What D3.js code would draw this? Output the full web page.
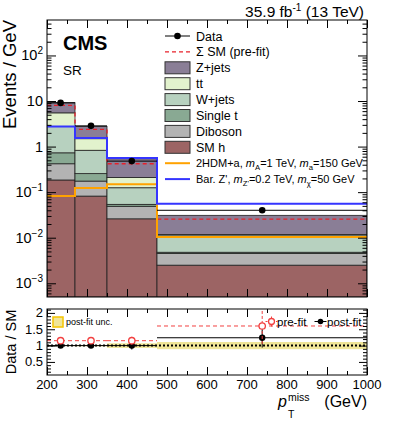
<!DOCTYPE html>
<html>
<head>
<meta charset="utf-8">
<script src="https://cdn.jsdelivr.net/npm/d3@7"></script>
<style>
body { margin: 0; background: #fff; }
text { font-family: "Liberation Sans", Arial, Helvetica, sans-serif; fill: #000; }
</style>
</head>
<body>
<script>
// binning and yields (events / GeV)
const binEdges = [200, 270, 350, 475, 1000];
const dataX = [234, 310, 412, 738];
const dataY = [9.1, 2.85, 0.48, 0.040];
const prefitSM = [8.0, 2.38, 0.42, 0.0256];

const bkgKeys = ["SM h", "Diboson", "Single t", "W+jets", "tt", "Z+jets"];
const smh = [0.185, 0.082, 0.026, 0.0025];
const diboson = [0.235, 0.093, 0.023, 0.0020];
const singleT = [0.31, 0.080, 0.005, 0.0003];
const wjets = [2.04, 0.575, 0.071, 0.0067];
const ttbar = [2.73, 0.66, 0.085, 0.0002];
const zjets = [3.7, 1.28, 0.33, 0.0193];
const bkgValues = [smh, diboson, singleT, wjets, ttbar, zjets];
const bkgColors = ["#9c6464", "#b3b3b3", "#89a993", "#b7d1bf", "#e2f2cd", "#8a7e96"];

const sig2hdm = [0.082, 0.123, 0.150, 0.0104];
const sigZp = [2.77, 1.54, 0.56, 0.056];

// ratio panel
const prefitRatio = [1.15, 1.15, 1.15, 1.6];
const prefitErr = [0.03, 0.04, 0.12, 0.55];
const postfitRatio = [1.0, 1.0, 1.0, 1.24];
const postfitErr = [0.03, 0.04, 0.12, 0.3];
const postfitUnc = [0.015, 0.02, 0.07, 0.11];

const xTicks = [200, 300, 400, 500, 600, 700, 800, 900, 1000];
const yDecades = [1e-3, 1e-2, 1e-1, 1, 10, 100];
const yDecadeLabels = [["10", "−3"], ["10", "−2"], ["10", "−1"], ["1", ""], ["10", ""], ["10", "2"]];
const ratioTicks = [0.5, 1, 1.5, 2];
const ratioTickLabels = ["0.5", "1", "1.5", "2"];

const width = 395;
const height = 425;
const L = 47, R = 367;
const mainTop = 20, mainBottom = 297;
const ratTop = 309, ratBottom = 375;

const svg = d3.select('body').append('svg')
    .attr('width', width)
    .attr('height', height);

const x = d3.scaleLinear().domain([200, 1000]).range([L, R]);
const y = d3.scaleLog().domain([5e-4, 600]).range([mainBottom, mainTop]);
const yr = d3.scaleLinear().domain([0.1, 2.12]).range([ratBottom, ratTop]);
const yMin = y.domain()[0];

const defs = svg.append('defs');
defs.append('clipPath').attr('id', 'clipMain').append('rect')
    .attr('x', L).attr('y', mainTop).attr('width', R - L).attr('height', mainBottom - mainTop);
defs.append('clipPath').attr('id', 'clipRatio').append('rect')
    .attr('x', L).attr('y', ratTop).attr('width', R - L).attr('height', ratBottom - ratTop);

// ---- main panel ----
const main = svg.append('g').attr('clip-path', 'url(#clipMain)');

const table = binEdges.slice(0, -1).map((lo, i) => {
    const row = { lo: lo, hi: binEdges[i + 1] };
    bkgKeys.forEach((k, j) => row[k] = bkgValues[j][i]);
    return row;
});
const stacked = d3.stack().keys(bkgKeys)(table);

stacked.forEach((layer, j) => {
    main.append('g')
        .selectAll('rect')
        .data(layer)
        .join('rect')
        .attr('x', d => x(d.data.lo))
        .attr('width', d => x(d.data.hi) - x(d.data.lo))
        .attr('y', d => y(d[1]))
        .attr('height', d => y(Math.max(d[0], yMin)) - y(d[1]))
        .attr('fill', bkgColors[j])
        .attr('stroke', '#222')
        .attr('stroke-width', 0.8);
});

function stepPoints(vals) {
    const pts = [];
    vals.forEach((v, i) => {
        pts.push([binEdges[i], v]);
        pts.push([binEdges[i + 1], v]);
    });
    return pts;
}
const stepLine = d3.line().x(d => x(d[0])).y(d => y(d[1]));

main.append('path')
    .attr('d', stepLine(stepPoints(prefitSM)))
    .attr('fill', 'none')
    .attr('stroke', '#e8202a')
    .attr('stroke-width', 1.3)
    .attr('stroke-dasharray', '4,3');

main.append('path')
    .attr('d', stepLine(stepPoints(sig2hdm)))
    .attr('fill', 'none')
    .attr('stroke', '#ffa200')
    .attr('stroke-width', 2);

main.append('path')
    .attr('d', stepLine(stepPoints(sigZp)))
    .attr('fill', 'none')
    .attr('stroke', '#3535ff')
    .attr('stroke-width', 2);

// data
const dataG = main.append('g');
dataY.forEach((v, i) => {
    dataG.append('line')
        .attr('x1', x(binEdges[i])).attr('x2', x(binEdges[i + 1]))
        .attr('y1', y(v)).attr('y2', y(v))
        .attr('stroke', '#000').attr('stroke-width', 1);
});
dataG.selectAll('circle')
    .data(dataY)
    .join('circle')
    .attr('cx', (d, i) => x(dataX[i]))
    .attr('cy', d => y(d))
    .attr('r', 3.3)
    .attr('fill', '#000');

// ---- ratio panel ----
const rat = svg.append('g').attr('clip-path', 'url(#clipRatio)');

rat.append('g')
    .selectAll('rect')
    .data(postfitUnc)
    .join('rect')
    .attr('x', (d, i) => x(binEdges[i]))
    .attr('width', (d, i) => x(binEdges[i + 1]) - x(binEdges[i]))
    .attr('y', d => yr(1 + d))
    .attr('height', d => yr(1 - d) - yr(1 + d))
    .attr('fill', '#f0e597');

rat.append('line')
    .attr('x1', L).attr('x2', R)
    .attr('y1', yr(1)).attr('y2', yr(1))
    .attr('stroke', '#000').attr('stroke-width', 2)
    .attr('stroke-dasharray', '2,2');

function ratioPoints(g, vals, errs, color, dashed, open) {
    vals.forEach((v, i) => {
        g.append('line')
            .attr('x1', x(binEdges[i])).attr('x2', x(binEdges[i + 1]))
            .attr('y1', yr(v)).attr('y2', yr(v))
            .attr('stroke', color).attr('stroke-width', 1)
            .attr('stroke-dasharray', dashed ? '4,3' : null);
        g.append('line')
            .attr('x1', x(dataX[i])).attr('x2', x(dataX[i]))
            .attr('y1', yr(v - errs[i])).attr('y2', yr(v + errs[i]))
            .attr('stroke', color).attr('stroke-width', 1)
            .attr('stroke-dasharray', dashed ? '3,2' : null);
    });
    g.selectAll('circle')
        .data(vals)
        .join('circle')
        .attr('cx', (d, i) => x(dataX[i]))
        .attr('cy', d => yr(d))
        .attr('r', 3.2)
        .attr('fill', open ? '#fff' : color)
        .attr('stroke', open ? color : 'none')
        .attr('stroke-width', 1.3);
}
ratioPoints(rat.append('g'), postfitRatio, postfitErr, '#000', false, false);
ratioPoints(rat.append('g'), prefitRatio, prefitErr, '#f24040', true, true);

// ---- frames and ticks ----
function inside(g, axis, scale, values, size, tx, ty) {
    g.append('g')
        .attr('transform', `translate(${tx},${ty})`)
        .call(axis(scale).tickValues(values).tickSize(-size).tickFormat(''))
        .call(a => a.select('.domain').remove())
        .call(a => a.selectAll('line').attr('stroke', '#000').attr('stroke-width', 1));
}

const xMajor = xTicks;
const xMinor = d3.range(250, 1000, 100);
const axesG = svg.append('g');

[[mainTop, mainBottom], [ratTop, ratBottom]].forEach(([t, b]) => {
    inside(axesG, d3.axisBottom, x, xMajor, 8, 0, b);
    inside(axesG, d3.axisBottom, x, xMinor, 4, 0, b);
    inside(axesG, d3.axisTop, x, xMajor, 8, 0, t);
    inside(axesG, d3.axisTop, x, xMinor, 4, 0, t);
    axesG.append('rect')
        .attr('x', L).attr('y', t)
        .attr('width', R - L).attr('height', b - t)
        .attr('fill', 'none').attr('stroke', '#000').attr('stroke-width', 1);
});

const yMinor = [];
for (let e = -4; e <= 2; e++) {
    for (let m = 2; m <= 9; m++) {
        const v = m * Math.pow(10, e);
        if (v > yMin && v < 600) yMinor.push(v);
    }
}
inside(axesG, d3.axisLeft, y, yDecades, 9, L, 0);
inside(axesG, d3.axisLeft, y, yMinor, 4.5, L, 0);
inside(axesG, d3.axisRight, y, yDecades, 9, R, 0);
inside(axesG, d3.axisRight, y, yMinor, 4.5, R, 0);

const rMinor = d3.range(0.2, 2.12, 0.1).filter(v => Math.abs(v * 2 - Math.round(v * 2)) > 0.01);
inside(axesG, d3.axisLeft, yr, ratioTicks, 8, L, 0);
inside(axesG, d3.axisLeft, yr, rMinor, 4, L, 0);
inside(axesG, d3.axisRight, yr, ratioTicks, 8, R, 0);
inside(axesG, d3.axisRight, yr, rMinor, 4, R, 0);

// tick labels
yDecades.forEach((v, i) => {
    const t = svg.append('text')
        .attr('x', 43).attr('y', y(v) + 5)
        .attr('text-anchor', 'end')
        .attr('font-size', 14.5);
    t.append('tspan').text(yDecadeLabels[i][0]);
    if (yDecadeLabels[i][1]) {
        t.append('tspan').attr('dy', -6).attr('font-size', 10).text(yDecadeLabels[i][1]);
    }
});

ratioTicks.forEach((v, i) => {
    svg.append('text')
        .attr('x', 43).attr('y', yr(v) + 4.5)
        .attr('text-anchor', 'end')
        .attr('font-size', 13)
        .text(ratioTickLabels[i]);
});

xTicks.forEach(v => {
    svg.append('text')
        .attr('x', x(v)).attr('y', 388.5)
        .attr('text-anchor', 'middle')
        .attr('font-size', 13)
        .text(v);
});

// axis titles
svg.append('text')
    .attr('transform', 'translate(16,20) rotate(-90)')
    .attr('text-anchor', 'end')
    .attr('font-size', 18.5)
    .text('Events / GeV');

svg.append('text')
    .attr('transform', 'translate(16,342) rotate(-90)')
    .attr('text-anchor', 'middle')
    .attr('font-size', 14.5)
    .text('Data / SM');

svg.append('text').attr('x', 278).attr('y', 406.5)
    .attr('font-size', 16).attr('font-style', 'italic').text('p');
svg.append('text').attr('x', 288).attr('y', 401)
    .attr('font-size', 10.5).text('miss');
svg.append('text').attr('x', 288).attr('y', 417.5)
    .attr('font-size', 10.5).text('T');
svg.append('text').attr('x', 367).attr('y', 406.5)
    .attr('text-anchor', 'end').attr('font-size', 16).text('(GeV)');

// header
const lumi = svg.append('text')
    .attr('x', 364).attr('y', 17)
    .attr('text-anchor', 'end')
    .attr('font-size', 15.5);
lumi.append('tspan').text('35.9 fb');
lumi.append('tspan').attr('dy', -6).attr('font-size', 10).text('-1');
lumi.append('tspan').attr('dy', 6).text(' (13 TeV)');

svg.append('text').attr('x', 63).attr('y', 50)
    .attr('font-size', 20).attr('font-weight', 'bold').text('CMS');
svg.append('text').attr('x', 63).attr('y', 75)
    .attr('font-size', 13.5).text('SR');

// ---- main legend ----
const legendLabels = ["Data", "Σ SM (pre-fit)", "Z+jets", "tt", "W+jets", "Single t", "Diboson", "SM h"];
const leg = svg.append('g');
const rowY = i => 36 + i * 15.9;
const lx0 = 165, lx1 = 190, ltx = 196;

leg.append('line').attr('x1', lx0).attr('x2', lx1).attr('y1', rowY(0)).attr('y2', rowY(0))
    .attr('stroke', '#000').attr('stroke-width', 1);
leg.append('circle').attr('cx', (lx0 + lx1) / 2).attr('cy', rowY(0)).attr('r', 3.3).attr('fill', '#000');
leg.append('line').attr('x1', lx0).attr('x2', lx1).attr('y1', rowY(1)).attr('y2', rowY(1))
    .attr('stroke', '#e8202a').attr('stroke-width', 1.3).attr('stroke-dasharray', '4,3');

const stackLegend = ["Z+jets", "tt", "W+jets", "Single t", "Diboson", "SM h"];
stackLegend.forEach((name, k) => {
    const j = bkgKeys.indexOf(name);
    leg.append('rect')
        .attr('x', lx0).attr('y', rowY(k + 2) - 6)
        .attr('width', lx1 - lx0).attr('height', 12)
        .attr('fill', bkgColors[j]).attr('stroke', '#333').attr('stroke-width', 1);
});
legendLabels.forEach((t, i) => {
    leg.append('text').attr('x', ltx).attr('y', rowY(i) + 4.5)
        .attr('font-size', 12.5).text(t);
});

function richText(xp, yp, parts, size) {
    const t = leg.append('text').attr('x', xp).attr('y', yp).attr('font-size', size);
    let shift = 0;
    parts.forEach(([s, kind]) => {
        const sp = t.append('tspan').text(s);
        if (kind === 'i') sp.attr('font-style', 'italic');
        if (kind === 'sub') {
            sp.attr('font-size', size * 0.7).attr('dy', 3 - shift);
            shift = 3;
        } else if (shift) {
            sp.attr('dy', -shift);
            shift = 0;
        }
    });
}
leg.append('line').attr('x1', lx0).attr('x2', lx1).attr('y1', rowY(8)).attr('y2', rowY(8))
    .attr('stroke', '#ffa200').attr('stroke-width', 2);
richText(ltx, rowY(8) + 4, [["2HDM+a, "], ["m", "i"], ["A", "sub"], ["=1 TeV, "], ["m", "i"], ["a", "sub"], ["=150 GeV"]], 11);
leg.append('line').attr('x1', lx0).attr('x2', lx1).attr('y1', rowY(9)).attr('y2', rowY(9))
    .attr('stroke', '#3535ff').attr('stroke-width', 2);
richText(ltx, rowY(9) + 4, [["Bar. Z', "], ["m", "i"], ["Z'", "sub"], ["=0.2 TeV, "], ["m", "i"], ["χ", "sub"], ["=50 GeV"]], 11);

// ---- ratio legend ----
leg.append('rect').attr('x', 53).attr('y', 317).attr('width', 10).attr('height', 10)
    .attr('fill', '#f0e597').attr('stroke', '#f5c400').attr('stroke-width', 1.5);
leg.append('text').attr('x', 66).attr('y', 325).attr('font-size', 9).text('post-fit unc.');

const pfx = 271.5, pfy = 321.5;
leg.append('line').attr('x1', pfx - 6).attr('x2', pfx + 6).attr('y1', pfy).attr('y2', pfy)
    .attr('stroke', '#f24040').attr('stroke-dasharray', '2,1.5');
leg.append('line').attr('x1', pfx).attr('x2', pfx).attr('y1', pfy - 5).attr('y2', pfy + 5)
    .attr('stroke', '#f24040');
leg.append('circle').attr('cx', pfx).attr('cy', pfy).attr('r', 3)
    .attr('fill', '#fff').attr('stroke', '#f24040').attr('stroke-width', 1.3);
leg.append('text').attr('x', 277).attr('y', 325.5).attr('font-size', 11.5).text('pre-fit');

const bfx = 320.5;
leg.append('line').attr('x1', bfx - 6).attr('x2', bfx + 6).attr('y1', pfy).attr('y2', pfy)
    .attr('stroke', '#000');
leg.append('circle').attr('cx', bfx).attr('cy', pfy).attr('r', 2.8).attr('fill', '#000');
leg.append('text').attr('x', 327).attr('y', 325.5).attr('font-size', 11.5).text('post-fit');
</script>
</body>
</html>
